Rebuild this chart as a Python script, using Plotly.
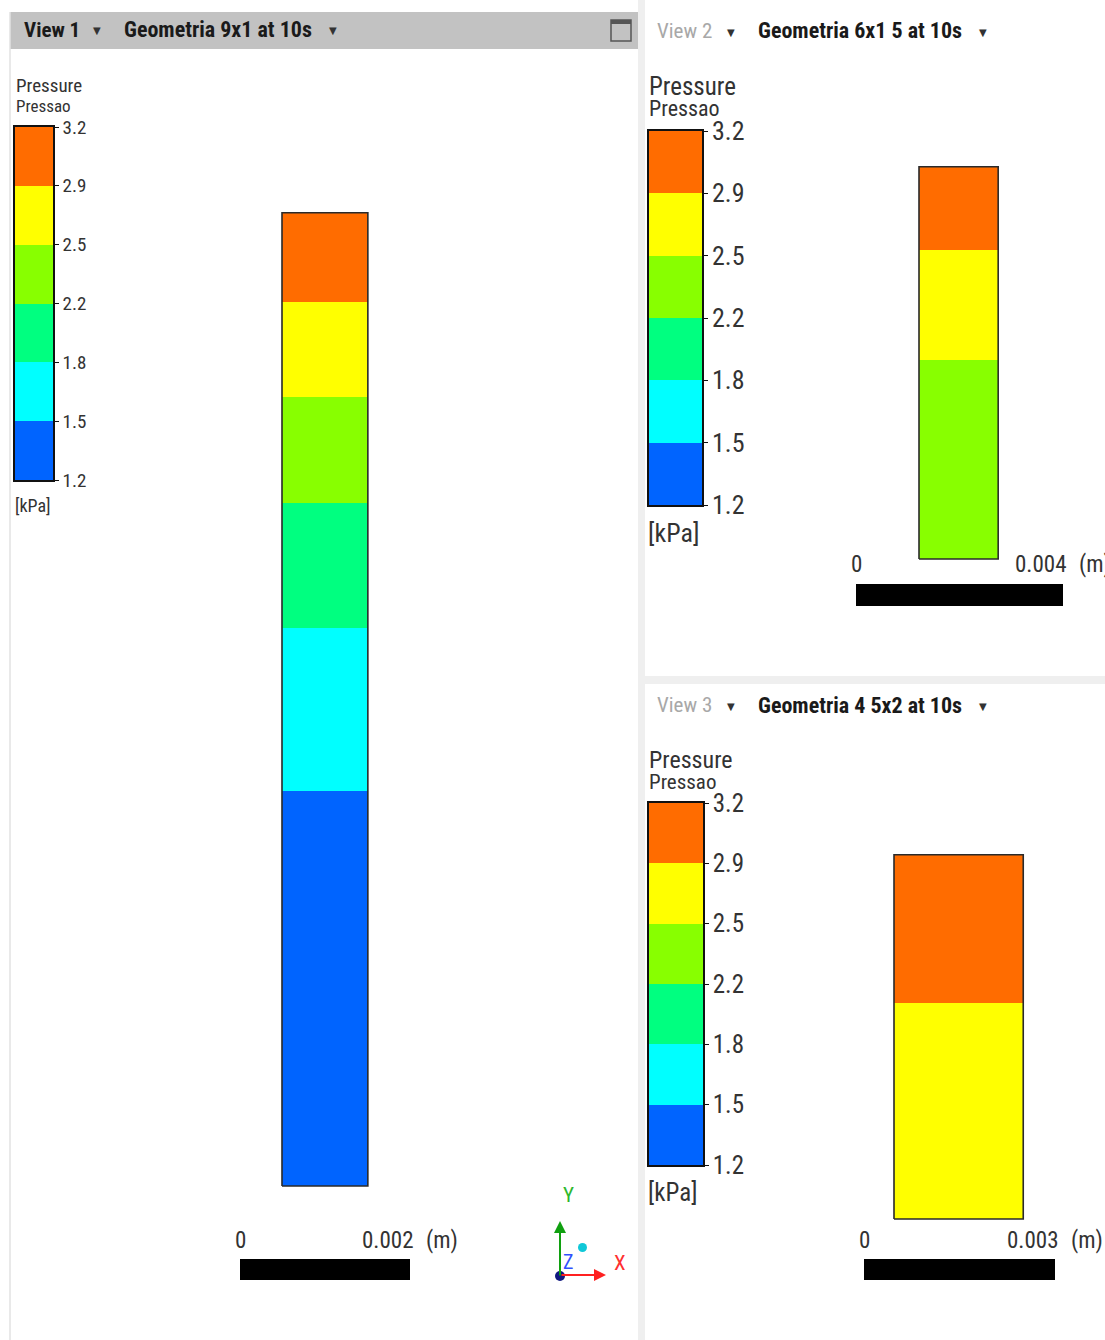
import plotly.graph_objects as go

W, H = 1105, 1340

# ---- data -------------------------------------------------------------
level_labels = ["1.2", "1.5", "1.8", "2.2", "2.5", "2.9", "3.2"]
level_colors = ["#0064ff", "#00ffff", "#00ff80", "#88ff00", "#ffff00", "#ff6c00"]

# Geometria 9x1: band heights (mm, bottom to top) and colour-level index
g1_width_mm = 1.01
g1_heights_mm = [4.65, 1.91, 1.48, 1.24, 1.12, 1.05]
g1_levels = [0, 1, 2, 3, 4, 5]
g1_scale_m = 0.002

# Geometria 6x1 5
g2_width_mm = 1.53
g2_heights_mm = [3.85, 2.13, 1.60]
g2_levels = [3, 4, 5]
g2_scale_m = 0.004

# Geometria 4 5x2
g3_width_mm = 2.03
g3_heights_mm = [3.39, 2.33]
g3_levels = [4, 5]
g3_scale_m = 0.003

TXT = "#333333"
NARROW = "Liberation Sans Narrow, Roboto Condensed, Roboto, Liberation Sans, Arial"

fig = go.Figure()
layout_axes = {}
annotations = []
shapes = []
ax_count = [0]


def new_axes(px_box, xrange, yrange, **extra):
    """Create an x/y axis pair whose domain is a pixel box on the page."""
    ax_count[0] += 1
    n = ax_count[0]
    x0, x1, y0, y1 = px_box
    xa = "xaxis" if n == 1 else f"xaxis{n}"
    ya = "yaxis" if n == 1 else f"yaxis{n}"
    xr = "x" if n == 1 else f"x{n}"
    yr = "y" if n == 1 else f"y{n}"
    base = dict(showgrid=False, zeroline=False, showticklabels=False, fixedrange=True,
                automargin=False)
    layout_axes[xa] = dict(base, domain=[x0 / W, x1 / W], range=xrange, anchor=yr,
                           **extra.get("x", {}))
    layout_axes[ya] = dict(base, domain=[1 - y1 / H, 1 - y0 / H], range=yrange, anchor=xr,
                           **extra.get("y", {}))
    return xr, yr


def colorbar(px_box, tick_size, standoff):
    xr, yr = new_axes(
        px_box, [0, 1], [0, len(level_colors)],
        x=dict(showline=True, mirror=True, linecolor="#111", linewidth=1.5),
        y=dict(showline=True, mirror=True, linecolor="#111", linewidth=1.5,
               side="right", ticks="outside", ticklen=4, tickwidth=1, tickcolor="#111",
               showticklabels=True, tickvals=list(range(len(level_labels))),
               ticktext=level_labels, ticklabelstandoff=standoff,
               tickfont=dict(family=NARROW, size=tick_size, color=TXT)),
    )
    for i, c in enumerate(level_colors):
        fig.add_trace(go.Bar(x=[0.5], y=[1], base=[i], width=[1], marker=dict(color=c, line=dict(width=0)),
                             xaxis=xr, yaxis=yr, showlegend=False, hoverinfo="skip"))


def geometry(px_box, origin_px, px_per_mm, width_mm, heights_mm, levels, scale_m,
             bar_px, label_y, label_size):
    """Draw a coloured column (mm units) with its scale bar, at equal x/y scale."""
    x0, x1, y0, y1 = px_box
    ox, oy = origin_px
    s = px_per_mm
    xr, yr = new_axes(px_box, [(x0 - ox) / s, (x1 - ox) / s], [(oy - y1) / s, (oy - y0) / s])
    base = 0.0
    for h, lv in zip(heights_mm, levels):
        fig.add_trace(go.Bar(x=[width_mm / 2], y=[h], base=[base], width=[width_mm],
                             marker=dict(color=level_colors[lv], line=dict(width=0)),
                             xaxis=xr, yaxis=yr, showlegend=False, hoverinfo="skip"))
        base += h
    total = sum(heights_mm)
    fig.add_trace(go.Scatter(x=[0, width_mm, width_mm, 0, 0], y=[0, 0, total, total, 0],
                             mode="lines", line=dict(color="#2a2a2a", width=1.6),
                             xaxis=xr, yaxis=yr, showlegend=False, hoverinfo="skip"))
    # scale bar: length equals scale_m
    bx0, bcy, bthick = bar_px
    scale_mm = scale_m * 1000
    fig.add_trace(go.Bar(x=[scale_mm], y=[(oy - bcy) / s], base=[(bx0 - ox) / s],
                         width=[bthick / s], orientation="h",
                         marker=dict(color="#000000", line=dict(width=0)),
                         xaxis=xr, yaxis=yr, showlegend=False, hoverinfo="skip"))
    bx1 = bx0 + scale_mm * s
    for t, x, anchor in (("0", bx0, "center"), (f"{scale_m:.3f}", bx1 + 5, "right"),
                         ("(m)", bx1 + 14, "left")):
        annotations.append(dict(x=x / W, y=1 - label_y / H, xref="paper", yref="paper",
                                text=t, showarrow=False, xanchor=anchor, yanchor="middle",
                                font=dict(family=NARROW, size=label_size, color=TXT)))


def text(x, y, t, size, color=TXT, family=NARROW, anchor="left"):
    annotations.append(dict(x=x / W, y=1 - y / H, xref="paper", yref="paper", text=t,
                            showarrow=False, xanchor=anchor, yanchor="middle",
                            font=dict(family=family, size=size, color=color)))


def header(y, view, title, x_view, x_tri1, x_title, x_tri2, view_color):
    text(x_view, y, f"<b>{view}</b>" if view_color == "#1a1a1a" else view, 21, view_color)
    text(x_tri1, y + 1, "▼", 10, "#333", "DejaVu Sans", "center")
    text(x_title, y, f"<b>{title}</b>", 22, "#1a1a1a")
    text(x_tri2, y + 1, "▼", 10, "#333", "DejaVu Sans", "center")


# ---- window chrome ----------------------------------------------------
shapes += [
    dict(type="rect", xref="paper", yref="paper", x0=638 / W, x1=645 / W, y0=0, y1=1,
         fillcolor="#efefef", line=dict(width=0), layer="below"),
    dict(type="rect", xref="paper", yref="paper", x0=645 / W, x1=1, y0=1 - 684 / H, y1=1 - 676 / H,
         fillcolor="#efefef", line=dict(width=0), layer="below"),
    dict(type="line", xref="paper", yref="paper", x0=10 / W, x1=10 / W, y0=0, y1=1 - 12 / H,
         line=dict(color="#e2e2e2", width=1.5)),
    dict(type="rect", xref="paper", yref="paper", x0=10 / W, x1=638 / W, y0=1 - 49 / H, y1=1 - 12 / H,
         fillcolor="#c2c2c2", line=dict(width=0), layer="below"),
    # maximise button
    dict(type="rect", xref="paper", yref="paper", x0=611 / W, x1=631 / W, y0=1 - 41 / H, y1=1 - 20 / H,
         fillcolor="rgba(0,0,0,0)", line=dict(color="#555", width=1.5)),
    dict(type="rect", xref="paper", yref="paper", x0=611 / W, x1=631 / W, y0=1 - 24 / H, y1=1 - 20 / H,
         fillcolor="#555", line=dict(width=0)),
]

header(30, "View 1", "Geometria 9x1 at 10s", 22, 97, 122, 333, "#1a1a1a")
header(31, "View 2", "Geometria 6x1 5 at 10s", 655, 731, 756, 983, "#a8a8a8")
header(705, "View 3", "Geometria 4 5x2 at 10s", 655, 731, 756, 983, "#a8a8a8")

# ---- legends ----------------------------------------------------------
colorbar((15, 53, 127, 480), 19, 0)
text(14, 86, "Pressure", 19)
text(14, 106, "Pressao", 17)
text(13, 506, "[kPa]", 18)

colorbar((649, 702, 131, 505), 26, -1)
text(647, 87, "Pressure", 25)
text(647, 109, "Pressao", 22)
text(646, 533, "[kPa]", 26)

colorbar((649, 703, 803, 1165), 25, -1)
text(647, 760, "Pressure", 24)
text(647, 782, "Pressao", 21)
text(646, 1192, "[kPa]", 25)

# ---- geometries -------------------------------------------------------
geometry((120, 636, 52, 1336), (282, 1186), 85.0, g1_width_mm, g1_heights_mm, g1_levels,
         g1_scale_m, (240, 1269.5, 21), 1240, 23)
geometry((760, 1105, 52, 672), (919, 559), 51.75, g2_width_mm, g2_heights_mm, g2_levels,
         g2_scale_m, (856, 595, 22), 565, 23)
geometry((760, 1105, 730, 1336), (894, 1219), 63.67, g3_width_mm, g3_heights_mm, g3_levels,
         g3_scale_m, (864, 1269.5, 21), 1240, 23)

# ---- orientation triad -----------------------------------------------
annotations += [
    dict(x=606 / W, y=1 - 1275 / H, xref="paper", yref="paper", ax=-46, ay=0, axref="pixel",
         ayref="pixel", text="", showarrow=True, arrowhead=2, arrowsize=1.2, arrowwidth=2,
         arrowcolor="#ff2020"),
    dict(x=560 / W, y=1 - 1221 / H, xref="paper", yref="paper", ax=0, ay=56, axref="pixel",
         ayref="pixel", text="", showarrow=True, arrowhead=2, arrowsize=1.2, arrowwidth=2,
         arrowcolor="#10a010"),
]
text(568, 1195, "Y", 21, "#2db82d", NARROW, "center")
text(620, 1263, "X", 21, "#ff3030", NARROW, "center")
text(568, 1262, "Z", 20, "#3050ff", NARROW, "center")
shapes += [
    dict(type="circle", xref="paper", yref="paper", x0=578 / W, x1=587 / W, y0=1 - 1252 / H,
         y1=1 - 1243 / H, fillcolor="#10c8d8", line=dict(width=0)),
    dict(type="circle", xref="paper", yref="paper", x0=555 / W, x1=565 / W, y0=1 - 1281 / H,
         y1=1 - 1271 / H, fillcolor="#101880", line=dict(width=0)),
]

fig.update_layout(
    width=W, height=H, margin=dict(l=0, r=0, t=0, b=0, autoexpand=False),
    paper_bgcolor="white", plot_bgcolor="rgba(0,0,0,0)",
    barmode="overlay", bargap=0, showlegend=False,
    annotations=annotations, shapes=shapes, **layout_axes,
)

fig.write_html("out.html", config={"displayModeBar": False})
